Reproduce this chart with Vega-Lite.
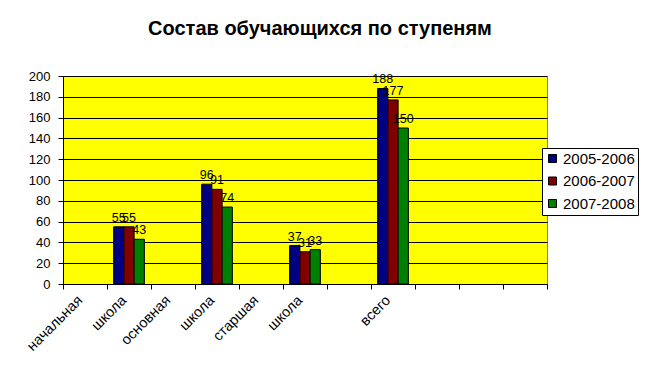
{
  "$schema": "https://vega.github.io/schema/vega-lite/v6.json",
  "autosize": {"type": "none"},
  "padding": {"left": 63, "top": 76, "right": 98, "bottom": 97},
  "width": 484,
  "height": 208,
  "background": "white",
  "title": {
    "text": "Состав обучающихся по ступеням",
    "font": "Liberation Sans",
    "fontSize": 20,
    "fontWeight": "bold",
    "color": "black",
    "anchor": "middle",
    "dx": 15,
    "offset": 15,
    "baseline": "alphabetic"
  },
  "config": {
    "view": {"stroke": "#808080", "fill": "#FFFF00"},
    "axis": {
      "labelFont": "Liberation Sans",
      "labelFontSize": 13,
      "labelColor": "black",
      "domainColor": "black",
      "tickColor": "black",
      "tickSize": 5,
      "title": null
    }
  },
  "data": {
    "values": [
      {"cat": "2", "year": "2005-2006", "value": 55},
      {"cat": "2", "year": "2006-2007", "value": 55},
      {"cat": "2", "year": "2007-2008", "value": 43},
      {"cat": "4", "year": "2005-2006", "value": 96},
      {"cat": "4", "year": "2006-2007", "value": 91},
      {"cat": "4", "year": "2007-2008", "value": 74},
      {"cat": "6", "year": "2005-2006", "value": 37},
      {"cat": "6", "year": "2006-2007", "value": 31},
      {"cat": "6", "year": "2007-2008", "value": 33},
      {"cat": "8", "year": "2005-2006", "value": 188},
      {"cat": "8", "year": "2006-2007", "value": 177},
      {"cat": "8", "year": "2007-2008", "value": 150}
    ]
  },
  "encoding": {
    "x": {
      "field": "cat",
      "type": "nominal",
      "scale": {"domain": ["1","2","3","4","5","6","7","8","9","10","11"], "paddingInner": 0, "paddingOuter": 0},
      "axis": {
        "labelAngle": -45,
        "labelAlign": "right",
        "labelBaseline": "top",
        "labelFontSize": 14.5,
        "labelExpr": "['начальная','школа','основная','школа','старшая','школа','','всего','','',''][toNumber(datum.value)-1]",
        "tickBand": "extent",
        "labelPadding": 4,
        "labelOffset": -10,
        "grid": false
      }
    },
    "xOffset": {"field": "year", "type": "nominal", "scale": {"domain": ["2005-2006","2006-2007","2007-2008"], "paddingOuter": 0.65, "paddingInner": 0}},
    "y": {
      "field": "value",
      "type": "quantitative",
      "scale": {"domain": [0, 200], "nice": false},
      "axis": {
        "values": [0,20,40,60,80,100,120,140,160,180,200],
        "grid": true,
        "gridColor": "black",
        "gridOpacity": 1,
        "labelPadding": 8
      }
    }
  },
  "layer": [
    {
      "mark": {"type": "bar", "stroke": "black", "strokeWidth": 1},
      "encoding": {
        "color": {
          "field": "year",
          "type": "nominal",
          "scale": {"domain": ["2005-2006","2006-2007","2007-2008"], "range": ["#000080","#800000","#008000"]},
          "legend": {
            "title": null,
            "orient": "none",
            "legendX": 479,
            "legendY": 72,
            "strokeColor": "black",
            "fillColor": "white",
            "padding": 3,
            "symbolType": "square",
            "symbolSize": 64,
            "symbolStrokeColor": "black",
            "symbolStrokeWidth": 1,
            "symbolOpacity": 1,
            "labelFont": "Liberation Sans",
            "labelFontSize": 15,
            "labelColor": "black",
            "rowPadding": 6.5,
            "labelOffset": 3
          }
        }
      }
    },
    {
      "mark": {"type": "text", "baseline": "bottom", "dy": -2, "font": "Liberation Sans", "fontSize": 12.5, "color": "black"},
      "encoding": {
        "text": {"field": "value", "type": "quantitative"}
      }
    }
  ]
}
